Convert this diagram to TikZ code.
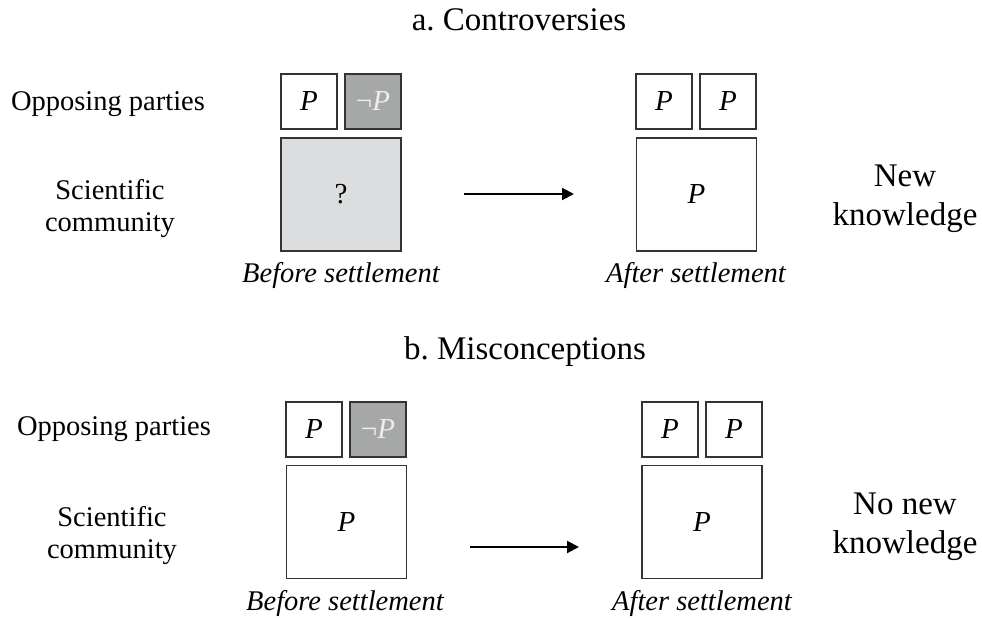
\documentclass[tikz,border=0pt]{standalone}
\usepackage{fontspec}
\setmainfont{Liberation Serif}
\usetikzlibrary{arrows.meta}
\definecolor{boxline}{HTML}{333333}
\definecolor{darkfill}{HTML}{A6A8A7}
\definecolor{lightfill}{HTML}{DCDDDF}
\definecolor{negtext}{HTML}{EDEDED}
\tikzset{
  lbl/.style={inner sep=0pt, align=center, font=\fontsize{28.5}{32}\selectfont},
  ttl/.style={inner sep=0pt, align=center, font=\fontsize{33}{39}\selectfont},
  smallbox/.style={draw=boxline, line width=1.5pt, minimum width=56pt, minimum height=55pt, inner sep=0pt, font=\fontsize{29}{32}\selectfont},
  bigbox/.style={draw=boxline, line width=1.5pt, minimum width=120pt, minimum height=113pt, inner sep=0pt, font=\fontsize{29}{32}\selectfont},
  negbox/.style={smallbox, fill=darkfill, text=negtext},
  arr/.style={line width=2pt, -{Triangle[length=12pt,width=12pt]}}
}
\begin{document}
\frenchspacing
\begin{tikzpicture}[x=1pt,y=-1pt]
\useasboundingbox (0,0) rectangle (982,618);
% ---- panel a ----
\node[ttl] (ta) at (519,20) {a. Controversies};
\node[lbl] (opa) at (108,104) {Opposing parties};
\node[lbl] (sca) at (110,209) {Scientific\\community};
\node[smallbox] (a1) at (309,101.5) {\textit{P}};
\node[negbox] (a2) at (373,101.5) {¬\textit{P}};
\node[bigbox, fill=lightfill] (a3) at (341,194.5) {?};
\node[lbl, font=\fontsize{28.5}{32}\itshape] (bsa) at (341,275) {Before settlement};
\node[smallbox] (a4) at (664,101.5) {\textit{P}};
\node[smallbox] (a5) at (728,101.5) {\textit{P}};
\node[bigbox] (a6) at (696.5,194.5) {\textit{P}};
\node[lbl, font=\fontsize{28.5}{32}\itshape] (asa) at (696,275) {After settlement};
\node[ttl] (nka) at (905,199) {New\\knowledge};
\coordinate (sa) at (464,194);
\coordinate (ea) at (574,194);
\draw[arr] (sa) -- (ea);
% ---- panel b ----
\node[ttl] (tb) at (525,352) {b. Misconceptions};
\node[lbl] (opb) at (114,429) {Opposing parties};
\node[lbl] (scb) at (112,536) {Scientific\\community};
\node[smallbox] (b1) at (314,429.5) {\textit{P}};
\node[negbox] (b2) at (378,429.5) {¬\textit{P}};
\node[bigbox] (b3) at (346.5,522) {\textit{P}};
\node[lbl, font=\fontsize{28.5}{32}\itshape] (bsb) at (345,603) {Before settlement};
\node[smallbox] (b4) at (670,429.5) {\textit{P}};
\node[smallbox] (b5) at (734,429.5) {\textit{P}};
\node[bigbox] (b6) at (702,522) {\textit{P}};
\node[lbl, font=\fontsize{28.5}{32}\itshape] (asb) at (702,603) {After settlement};
\node[ttl] (nkb) at (905,527) {No new\\knowledge};
\coordinate (sb) at (470,547);
\coordinate (eb) at (579,547);
\draw[arr] (sb) -- (eb);
\end{tikzpicture}
\end{document}
